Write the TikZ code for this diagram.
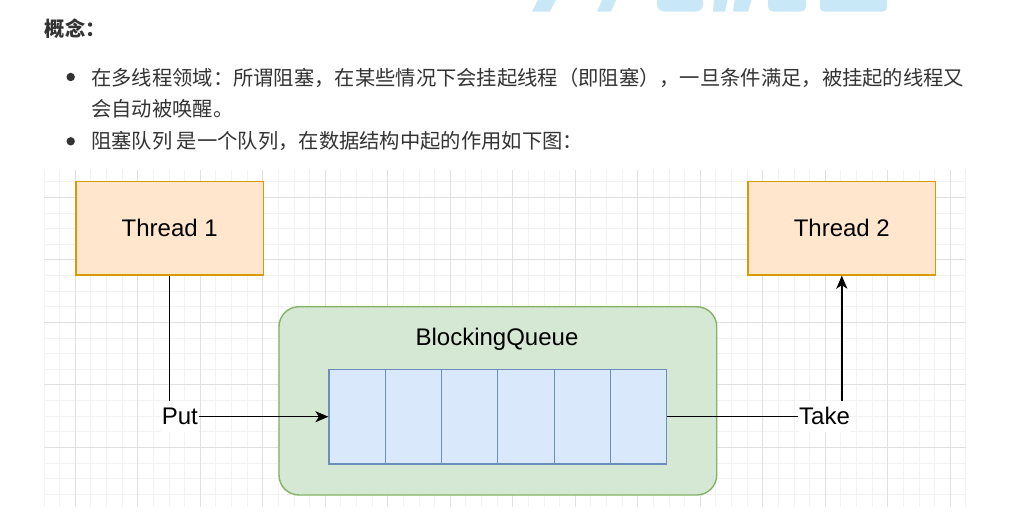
\documentclass[tikz,border=0pt]{standalone}
\usepackage{fontspec}
\setmainfont{Liberation Sans}
\newfontfamily\cjk{Noto Sans CJK SC}
\usetikzlibrary{arrows.meta}
\definecolor{gridminor}{HTML}{F2F2F2}
\definecolor{gridmajor}{HTML}{E0E0E0}
\definecolor{orangefill}{HTML}{FFE6CC}
\definecolor{orangeline}{HTML}{D79B00}
\definecolor{greenfill}{HTML}{D5E8D4}
\definecolor{greenline}{HTML}{82B366}
\definecolor{bluefill}{HTML}{DAE8FC}
\definecolor{blueline}{HTML}{6C8EBF}
\definecolor{txt}{HTML}{333333}
\definecolor{wmark}{HTML}{C8E8F8}
\tikzset{
  minorline/.style={draw=gridminor, line width=0.9pt},
  majorline/.style={draw=gridmajor, line width=0.9pt},
  threadbox/.style={draw=orangeline, fill=orangefill, line width=1.4pt,
    minimum width=187.5pt, minimum height=93.3pt, inner sep=0pt,
    font=\fontsize{24}{28}\selectfont},
  queuebox/.style={draw=greenline, fill=greenfill, line width=1.4pt,
    rounded corners=20pt, minimum width=437.7pt, minimum height=188.3pt, inner sep=0pt},
  cellbox/.style={draw=blueline, fill=bluefill, line width=1.2pt,
    minimum width=56.28pt, minimum height=94.7pt, inner sep=0pt},
  edgelabel/.style={fill=white, inner xsep=0.6pt, inner ysep=0pt,
    text height=23pt, text depth=8.4pt, font=\fontsize{24}{28}\selectfont},
  conn/.style={draw=black, line width=1.5pt},
  cjktext/.style={inner sep=0pt, anchor=base west, text=txt,
    font=\cjk\fontsize{20.3}{24}\selectfont},
  bulletdot/.style={fill=txt, draw=none},
}
\begin{document}
\begin{tikzpicture}[x=1pt,y=-1pt]
\useasboundingbox (0,0) rectangle (1024,515);
\fill[white] (0,0) rectangle (1024,515);

% watermark remnants at the top edge
\begin{scope}
\clip (500,0) rectangle (900,11.5);
\fill[wmark] (539,-2) -- (557,-2) -- (550,11.5) -- (532,11.5) -- cycle;
\fill[wmark] (603,-2) -- (617,-2) -- (611,11.5) -- (597,11.5) -- cycle;
\fill[wmark, rounded corners=7pt] (657,-20) rectangle (703,11.5);
\fill[wmark] (714,-2) -- (728,-2) -- (725,11.5) -- (713,11.5) -- cycle;
\fill[wmark] (735,-2) -- (752,-2) -- (748,11.5) -- (733,11.5) -- cycle;
\fill[wmark, rounded corners=5pt] (768,-20) rectangle (806,11.5);
\fill[wmark, rounded corners=4pt] (820,-20) rectangle (887,11.5);
\end{scope}

% title and bullets
\node[cjktext, font=\cjk\bfseries\fontsize{20.3}{24}\selectfont] (title) at (44.5,36.8) {概念：};
\fill[bulletdot] (70.7,77) circle (4.2);
\fill[bulletdot] (70.7,141.3) circle (4.2);
\node[cjktext] (l1) at (91,85.8) {在多线程领域：所谓阻塞，在某些情况下会挂起线程（即阻塞），一旦条件满足，被挂起的线程又};
\node[cjktext] (l2) at (91,116.8) {会自动被唤醒。};
\node[cjktext] (l3) at (91,148.5) {阻塞队列 是一个队列，在数据结构中起的作用如下图：};

% grid
\begin{scope}
\clip (44,170) rectangle (966,507);
\foreach \i in {0,...,59} \draw[minorline] ({44.05+15.625*\i},170) -- ({44.05+15.625*\i},507);
\foreach \j in {0,...,20} \draw[minorline] (44,{181.7+15.625*\j}) -- (966,{181.7+15.625*\j});
\foreach \i in {0,...,14} \draw[majorline] ({75.3+62.5*\i},170) -- ({75.3+62.5*\i},507);
\foreach \j in {0,...,4} \draw[majorline] (44,{197.3+62.5*\j}) -- (966,{197.3+62.5*\j});
\end{scope}

% nodes
\node[threadbox] (t1) at (169.7,228.3) {Thread 1};
\node[threadbox] (t2) at (841.8,228.3) {Thread 2};
\node[queuebox] (q) at (497.85,400.85) {};
\node[inner sep=0pt, anchor=base, font=\fontsize{24}{28}\selectfont] (qlabel) at (497,345) {BlockingQueue};
\foreach \k in {1,...,6}
  \node[cellbox] (c\k) at ({329+56.28*(\k-0.5)},416.7) {};

\node[edgelabel] (put) at (179.8,416.7) {Put};
\node[edgelabel] (take) at (824.5,416.7) {Take};

% connectors
\draw[conn] (t1.south) -- (t1.south |- put.north);
\draw[conn, -{Stealth[length=13pt, width=11pt, inset=3.5pt]}] (put.east) -- (c1.west);
\draw[conn] (c6.east) -- (take.west);
\draw[conn, -{Stealth[length=13pt, width=11pt, inset=3.5pt]}] (take.north -| t2.south) -- (t2.south);
\end{tikzpicture}
\end{document}
